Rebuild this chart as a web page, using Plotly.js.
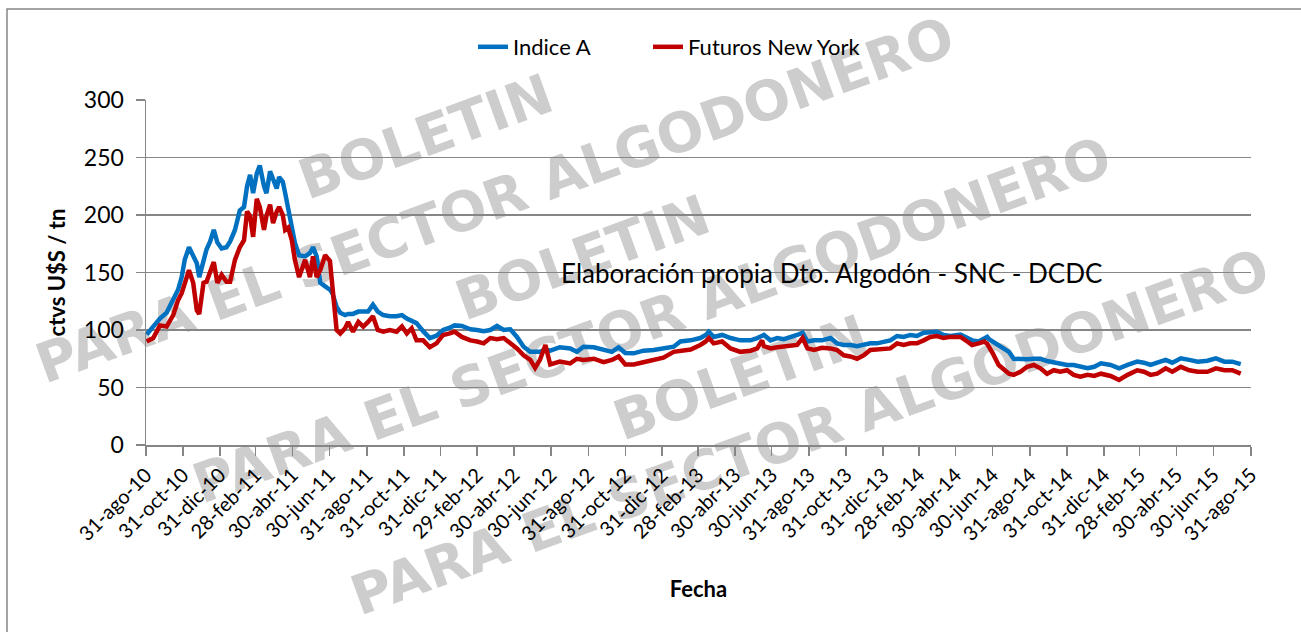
<!DOCTYPE html>
<html>
<head>
<meta charset="utf-8">
<script src="https://cdn.plot.ly/plotly-3.0.1.min.js"></script>
<style>
  html, body { margin: 0; padding: 0; background: #fff; }
  #chart { width: 1301px; height: 632px; }
</style>
</head>
<body>
<div id="chart"></div>
<script>
// ---- DATA ----
const dates = [
  "2010-09-01","2010-09-12","2010-09-23","2010-10-04","2010-10-15","2010-10-23","2010-10-29","2010-11-03","2010-11-10","2010-11-17",
  "2010-11-23","2010-11-27","2010-12-04","2010-12-09","2010-12-15","2010-12-21","2010-12-27","2011-01-03","2011-01-11","2011-01-17",
  "2011-01-25","2011-02-02","2011-02-09","2011-02-14","2011-02-19","2011-02-24","2011-03-02","2011-03-07","2011-03-14","2011-03-18",
  "2011-03-24","2011-03-29","2011-04-04","2011-04-08","2011-04-14","2011-04-18","2011-04-23","2011-04-29","2011-05-04","2011-05-11",
  "2011-05-21","2011-05-29","2011-06-03","2011-06-09","2011-06-15","2011-06-23","2011-07-01","2011-07-05","2011-07-09",
  "2011-07-12","2011-07-18","2011-07-26","2011-07-31","2011-08-08","2011-08-17","2011-08-25","2011-09-02","2011-09-10","2011-09-18",
  "2011-09-27","2011-10-08","2011-10-19","2011-10-28","2011-11-05","2011-11-13","2011-11-21","2011-12-02","2011-12-13","2011-12-24",
  "2012-01-04","2012-01-15","2012-01-23","2012-02-04","2012-02-18","2012-02-29","2012-03-11","2012-03-22","2012-04-02","2012-04-13",
  "2012-04-24","2012-05-05","2012-05-16","2012-05-27","2012-06-04","2012-06-12","2012-06-21","2012-06-29",
  "2012-07-15","2012-08-01","2012-08-12","2012-08-23","2012-09-09","2012-09-25","2012-10-09","2012-10-20","2012-10-31","2012-11-14",
  "2012-11-30","2012-12-17","2013-01-02","2013-01-19","2013-01-30","2013-02-16","2013-03-04","2013-03-13","2013-03-18","2013-03-26",
  "2013-04-09","2013-04-23","2013-05-09","2013-05-26",
  "2013-06-06","2013-06-14","2013-06-17","2013-06-28","2013-07-09","2013-07-20","2013-08-03","2013-08-11","2013-08-20","2013-08-28",
  "2013-09-08","2013-09-21","2013-10-05","2013-10-16","2013-10-27","2013-11-07","2013-11-18","2013-11-29","2013-12-10","2013-12-21",
  "2014-01-01","2014-01-12","2014-01-23","2014-02-03","2014-02-14","2014-02-25","2014-03-08","2014-03-19","2014-03-30","2014-04-10",
  "2014-04-21","2014-05-08","2014-05-19",
  "2014-05-27","2014-06-07","2014-06-16","2014-06-21","2014-06-24","2014-06-30","2014-07-10","2014-07-19","2014-07-27","2014-08-04",
  "2014-08-15","2014-08-26","2014-09-06","2014-09-17","2014-09-28","2014-10-09","2014-10-20","2014-10-31","2014-11-11","2014-11-22",
  "2014-12-04","2014-12-15",
  "2014-12-26","2015-01-11","2015-01-25","2015-02-08","2015-02-24","2015-03-07","2015-03-18","2015-03-29","2015-04-12","2015-04-23",
  "2015-05-07","2015-05-21","2015-06-04","2015-06-20","2015-07-04","2015-07-18","2015-07-31","2015-08-14"
];

const indiceA = [
  96,103,110,115,126,135,146,161,172,164,
  158,146,161,170,177,187,176,171,172,177,
  187,204,207,225,235,219,236,243,225,219,
  238,230,223,233,229,219,204,190,176,165,
  164,167,172,164,141,138,135,132,125,
  120,115,113,114,114,116,116,116,122,116,
  113,112,112,113,110,108,106,99,93,95,
  100,102,104,103.5,100.6,100,99,100,103.5,100,
  100.6,94,85.5,81,81,81,83,82,
  85,84,81,85.5,85,83,81,85,80,79.7,
  82,82.6,84,85.5,90,91,93,95.7,98.5,94,
  95.7,93,91,91,
  93,95,95.7,91,93,92,94,95.7,97.7,90,
  91,91,93,88.4,87,87,86,87,88.4,88.4,
  90,91,94.8,94,95.7,94.8,97.7,98.5,98.5,95.7,
  94.8,96,93,
  91,90,93,94,92,90,87,84,81,75,
  74.5,74.5,75,75,73,71.6,71,69.6,69.6,68,
  66.7,68,
  71,69.6,66.7,69.6,72.5,71.6,69.6,71.6,74,71.6,
  75.4,74,72.5,73.3,75.4,72.5,72.5,70.4
];

const futurosNY = [
  90,93,104,103,113,126,132,141,152,141,
  117,114,141,142,150,159,141,148,142,142,
  161,172,178,203,199,181,214,207,187,199,
  209,193,203,207,200,187,189,178,161,146,
  161,146,164,146,152,165,160,135,108,
  100,97,101.5,107,98.5,107,103,107,112,100,
  98.5,100,98.5,103,97,101.5,91,91,85,88.4,
  95.7,97,98.5,94,91,90,88.4,93,92,93,
  88.4,84,78,74,67,74,87,70,
  72.5,71,75,74,75,72,74,77,70,70,
  72,74,76,81,82,83,87,90,93,88.4,
  90,84,81,82,
  84,91,86,84,85,85.5,86.5,87,93,84,
  82.6,84.5,84,82.6,78,77,75,78,82.6,83,
  84,84,88.4,87,88.4,88.4,91,94,94.8,93,
  94,94,90,
  87,88.4,90,88,85.5,80,69.6,65,62,61,
  63.7,68,69.6,66.7,62,65,63.7,65,61,59.4,
  61,60,
  62,60,56.5,61,65,63.7,61,62,66.7,63.7,
  68,65,63.7,63.7,66.7,65,65,62
];

const seriesNames = ["Indice A", "Futuros New York"];

const tickDates = [
  "2010-08-31","2010-10-31","2010-12-31","2011-02-28","2011-04-30","2011-06-30",
  "2011-08-31","2011-10-31","2011-12-31","2012-02-29","2012-04-30","2012-06-30",
  "2012-08-31","2012-10-31","2012-12-31","2013-02-28","2013-04-30","2013-06-30",
  "2013-08-31","2013-10-31","2013-12-31","2014-02-28","2014-04-30","2014-06-30",
  "2014-08-31","2014-10-31","2014-12-31","2015-02-28","2015-04-30","2015-06-30",
  "2015-08-31"
];
const tickLabels = [
  "31-ago-10","31-oct-10","31-dic-10","28-feb-11","30-abr-11","30-jun-11",
  "31-ago-11","31-oct-11","31-dic-11","29-feb-12","30-abr-12","30-jun-12",
  "31-ago-12","31-oct-12","31-dic-12","28-feb-13","30-abr-13","30-jun-13",
  "31-ago-13","31-oct-13","31-dic-13","28-feb-14","30-abr-14","30-jun-14",
  "31-ago-14","31-oct-14","31-dic-14","28-feb-15","30-abr-15","30-jun-15",
  "31-ago-15"
];

const watermarkTop = "BOLETIN";
const watermarkBottom = "PARA EL SECTOR ALGODONERO";
const sourceNote = "Elaboración propia Dto. Algodón - SNC - DCDC";

// ---- geometry helpers (pixel -> paper) ----
const L = 146, R = 1251, T = 100, B = 445;
const px = x => (x - L) / (R - L);
const py = y => (B - y) / (B - T);

const gray = "#868686";
const FONT = "Lato, 'Open Sans', sans-serif";

const data = [
  { x: dates, y: indiceA, name: seriesNames[0], type: "scatter", mode: "lines",
    line: { color: "#0070C0", width: 4.5 }, legend: "legend" },
  { x: dates, y: futurosNY, name: seriesNames[1], type: "scatter", mode: "lines",
    line: { color: "#C00000", width: 4.5 }, legend: "legend2" }
];

const wmFont = { family: "'DejaVu Sans', sans-serif", size: 55, color: "#cdcdcd" };
const wmAngle = -20;
const wmTopPos = [[425,137],[582,258],[740,378]];
const wmBotPos = [[495,200],[652,320],[810,432]];
const annotations = [];
wmTopPos.forEach(p => annotations.push({ xref:"paper", yref:"paper", x: px(p[0]), y: py(p[1]),
  xanchor:"center", yanchor:"middle", text:"<b>"+watermarkTop+"</b>", showarrow:false, textangle:wmAngle, font: wmFont }));
wmBotPos.forEach(p => annotations.push({ xref:"paper", yref:"paper", x: px(p[0]), y: py(p[1]),
  xanchor:"center", yanchor:"middle", text:"<b>"+watermarkBottom+"</b>", showarrow:false, textangle:wmAngle, font: wmFont }));
annotations.push({ xref:"paper", yref:"paper", x: px(559), y: py(273), xanchor:"left", yanchor:"middle",
  text: sourceNote, showarrow:false, font:{ family: FONT, size: 26, color:"#000" } });

const legendFont = { size: 22, family: FONT, color: "#000" };

const layout = {
  width: 1301, height: 632,
  margin: { l: L, r: 1301 - R, t: T, b: 632 - B, pad: 0 },
  paper_bgcolor: "#ffffff", plot_bgcolor: "#ffffff",
  font: { family: FONT, color: "#000" },
  showlegend: true,
  legend:  { orientation: "h", x: px(473), xanchor: "left", y: py(47), yanchor: "middle",
             font: legendFont, bgcolor: "rgba(0,0,0,0)" },
  legend2: { orientation: "h", x: px(648), xanchor: "left", y: py(47), yanchor: "middle",
             font: legendFont, bgcolor: "rgba(0,0,0,0)" },
  xaxis: {
    type: "date", range: ["2010-08-31", "2015-08-31"],
    tickmode: "array", tickvals: tickDates, ticktext: tickLabels, tickangle: -45,
    ticks: "outside", ticklen: 9, tickwidth: 1.5, tickcolor: gray,
    showline: true, linecolor: gray, linewidth: 1.5,
    showgrid: false, zeroline: false, automargin: false,
    tickfont: { size: 20, family: FONT, color: "#000" },
    title: { text: "<b>Fecha</b>", font: { size: 22, family: FONT, color: "#000" }, standoff: 37 }
  },
  yaxis: {
    range: [0, 300], tick0: 0, dtick: 50,
    ticks: "outside", ticklen: 9, tickwidth: 1.5, tickcolor: gray,
    showline: true, linecolor: gray, linewidth: 1.5,
    showgrid: true, gridcolor: gray, gridwidth: 1.5, zeroline: false, automargin: false,
    tickfont: { size: 23, family: FONT, color: "#000" }, ticklabelstandoff: 7,
    title: { text: "<b>ctvs U$S / tn</b>", font: { size: 22, family: FONT, color: "#000" }, standoff: 12 }
  },
  annotations: annotations,
  shapes: [
    { type: "path", xref: "paper", yref: "paper",
      path: `M ${px(7)} ${py(660)} L ${px(7)} ${py(9)} L ${px(1320)} ${py(9)}`,
      line: { color: gray, width: 1.5 } }
  ]
};

Plotly.newPlot("chart", data, layout, { staticPlot: true, displayModeBar: false }).then(gd => {
  // put the watermark text behind the grid and the lines
  const below = gd.querySelector(".main-svg .layer-below");
  if (below) {
    gd.querySelectorAll(".infolayer .annotation").forEach(a => {
      const i = +a.getAttribute("data-index");
      if (i < 6) below.appendChild(a);
    });
  }
});
</script>
</body>
</html>
